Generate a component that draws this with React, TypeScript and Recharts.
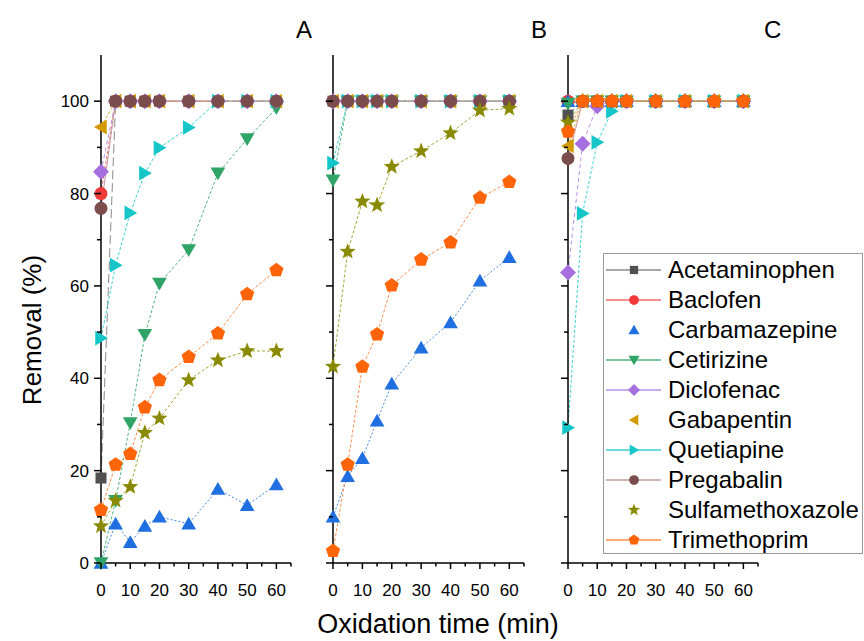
import React from 'react';
import { LineChart, Line, XAxis, YAxis } from 'recharts';

// sampling times (min)
const times = [0, 5, 10, 15, 20, 30, 40, 50, 60];

const compounds = [
  'Acetaminophen', 'Baclofen', 'Carbamazepine', 'Cetirizine', 'Diclofenac',
  'Gabapentin', 'Quetiapine', 'Pregabalin', 'Sulfamethoxazole', 'Trimethoprim',
];

// Panel A removal (%)
const acetaminophenA = [18.4, 100, 100, 100, 100, 100, 100, 100, 100];
const baclofenA = [80, 100, 100, 100, 100, 100, 100, 100, 100];
const carbamazepineA = [0, 8.5, 4.5, 8, 10, 8.5, 16, 12.5, 17];
const cetirizineA = [0, 13.5, 30.3, 49.4, 60.5, 67.8, 84.4, 91.8, 98.5];
const diclofenacA = [84.7, 100, 100, 100, 100, 100, 100, 100, 100];
const gabapentinA = [94.4, 100, 100, 100, 100, 100, 100, 100, 100];
const quetiapineA = [48.7, 64.5, 75.8, 84.4, 89.9, 94.3, 100, 100, 100];
const pregabalinA = [76.8, 100, 100, 100, 100, 100, 100, 100, 100];
const sulfamethoxazoleA = [8, 13.5, 16.5, 28.2, 31.3, 39.6, 43.9, 45.9, 45.9];
const trimethoprimA = [11.5, 21.3, 23.6, 33.7, 39.6, 44.6, 49.7, 58.2, 63.4];

// Panel B removal (%)
const acetaminophenB = [100, 100, 100, 100, 100, 100, 100, 100, 100];
const baclofenB = [100, 100, 100, 100, 100, 100, 100, 100, 100];
const carbamazepineB = [10, 18.8, 22.7, 30.8, 38.8, 46.6, 52.1, 61.1, 66.2];
const cetirizineB = [82.9, 100, 100, 100, 100, 100, 100, 100, 100];
const diclofenacB = [100, 100, 100, 100, 100, 100, 100, 100, 100];
const gabapentinB = [100, 100, 100, 100, 100, 100, 100, 100, 100];
const quetiapineB = [86.6, 100, 100, 100, 100, 100, 100, 100, 100];
const pregabalinB = [100, 100, 100, 100, 100, 100, 100, 100, 100];
const sulfamethoxazoleB = [42.5, 67.4, 78.3, 77.5, 85.8, 89.2, 93.1, 98, 98.4];
const trimethoprimB = [2.6, 21.3, 42.5, 49.5, 60.1, 65.7, 69.4, 79.1, 82.5];

// Panel C removal (%)
const acetaminophenC = [97, 100, 100, 100, 100, 100, 100, 100, 100];
const baclofenC = [100, 100, 100, 100, 100, 100, 100, 100, 100];
const carbamazepineC = [100, 100, 100, 100, 100, 100, 100, 100, 100];
const cetirizineC = [99.5, 100, 100, 100, 100, 100, 100, 100, 100];
const diclofenacC = [62.9, 90.8, 98.9, 100, 100, 100, 100, 100, 100];
const gabapentinC = [90.3, 100, 100, 100, 100, 100, 100, 100, 100];
const quetiapineC = [29.3, 75.7, 91.1, 97.8, 100, 100, 100, 100, 100];
const pregabalinC = [87.6, 100, 100, 100, 100, 100, 100, 100, 100];
const sulfamethoxazoleC = [95.4, 100, 100, 100, 100, 100, 100, 100, 100];
const trimethoprimC = [93.4, 100, 100, 100, 100, 100, 100, 100, 100];

const xTicks = [0, 5, 10, 15, 20, 25, 30, 35, 40, 45, 50, 55, 60, 65];
const yTicks = [0, 10, 20, 30, 40, 50, 60, 70, 80, 90, 100];

type Shape = 'square' | 'circle' | 'up' | 'down' | 'diamond' | 'left' | 'right' | 'star' | 'pentagon';

interface Style {
  color: string;
  line: string;
  dash: string;
  shape: Shape;
  legendLine: boolean;
}

const styles: Record<string, Style> = {
  Acetaminophen: { color: '#505050', line: '#8a8a8a', dash: '9 4', shape: 'square', legendLine: true },
  Baclofen: { color: '#f03a3a', line: '#f06a6a', dash: '3 2', shape: 'circle', legendLine: true },
  Carbamazepine: { color: '#1f6fe0', line: '#4a8ae8', dash: '2 2', shape: 'up', legendLine: false },
  Cetirizine: { color: '#2fa466', line: '#52b47e', dash: '3 2', shape: 'down', legendLine: true },
  Diclofenac: { color: '#a66fe0', line: '#b890e8', dash: '4 3', shape: 'diamond', legendLine: true },
  Gabapentin: { color: '#d39a00', line: '#ddae3a', dash: '3 2', shape: 'left', legendLine: false },
  Quetiapine: { color: '#14c6c8', line: '#3ad0d2', dash: '3 2', shape: 'right', legendLine: true },
  Pregabalin: { color: '#7a4c4c', line: '#c49a9a', dash: '', shape: 'circle', legendLine: true },
  Sulfamethoxazole: { color: '#8a8a00', line: '#a4a43a', dash: '3 2', shape: 'star', legendLine: false },
  Trimethoprim: { color: '#ff6508', line: '#ff8c4a', dash: '3 2', shape: 'pentagon', legendLine: true },
};

const FONT = "'Liberation Sans', Arial, sans-serif";

function polygon(cx: number, cy: number, n: number, r: number, rot: number, inner?: number) {
  const pts: string[] = [];
  const count = inner ? n * 2 : n;
  for (let i = 0; i < count; i++) {
    const rr = inner && i % 2 === 1 ? inner : r;
    const a = rot + (i * Math.PI * 2) / count;
    pts.push(`${cx + rr * Math.cos(a)},${cy + rr * Math.sin(a)}`);
  }
  return pts.join(' ');
}

function Marker({ shape, cx, cy, color, k = 1 }: { shape: Shape; cx: number; cy: number; color: string; k?: number }) {
  const up = -Math.PI / 2;
  switch (shape) {
    case 'square':
      return <rect x={cx - 5.5 * k} y={cy - 5.5 * k} width={11 * k} height={11 * k} fill={color} />;
    case 'circle':
      return <circle cx={cx} cy={cy} r={6.5 * k} fill={color} />;
    case 'up':
      return <polygon points={polygon(cx, cy + 1.5 * k, 3, 8.5 * k, up)} fill={color} />;
    case 'down':
      return <polygon points={polygon(cx, cy - 1.5 * k, 3, 8.5 * k, Math.PI / 2)} fill={color} />;
    case 'diamond':
      return <polygon points={polygon(cx, cy, 4, 8 * k, up)} fill={color} />;
    case 'left':
      return <polygon points={polygon(cx + 1.5 * k, cy, 3, 8.5 * k, Math.PI)} fill={color} />;
    case 'right':
      return <polygon points={polygon(cx - 1.5 * k, cy, 3, 8.5 * k, 0)} fill={color} />;
    case 'star':
      return <polygon points={polygon(cx, cy, 5, 8.5 * k, up, 3.6 * k)} fill={color} />;
    case 'pentagon':
      return <polygon points={polygon(cx, cy, 5, 7.5 * k, up)} fill={color} />;
  }
  return null;
}

// eslint-disable-next-line @typescript-eslint/no-explicit-any
const XTick = (props: any) => {
  const { x, y, payload } = props;
  const major = payload.value % 10 === 0;
  return (
    <g>
      <line x1={x} x2={x} y1={y} y2={y + (major ? 6 : 3.5)} stroke="#000" strokeWidth={1.5} />
      {major && (
        <text x={x} y={y + 33} textAnchor="middle" fontSize={17} fontFamily={FONT} fill="#000">
          {payload.value}
        </text>
      )}
    </g>
  );
};

// eslint-disable-next-line @typescript-eslint/no-explicit-any
const YTick = (props: any) => {
  const { x, y, payload, showLabel } = props;
  const major = payload.value % 20 === 0;
  return (
    <g>
      <line x1={x} x2={x - (major ? 7 : 4)} y1={y} y2={y} stroke="#000" strokeWidth={1.5} />
      {major && showLabel && (
        <text x={x - 12} y={y + 6} textAnchor="end" fontSize={17} fontFamily={FONT} fill="#000">
          {payload.value}
        </text>
      )}
    </g>
  );
};

function buildRows(series: number[][]) {
  return times.map((t, i) => {
    const row: Record<string, number> = { t };
    compounds.forEach((c, j) => {
      row[c] = series[j][i];
    });
    return row;
  });
}

const dataA = buildRows([acetaminophenA, baclofenA, carbamazepineA, cetirizineA, diclofenacA, gabapentinA, quetiapineA, pregabalinA, sulfamethoxazoleA, trimethoprimA]);
const dataB = buildRows([acetaminophenB, baclofenB, carbamazepineB, cetirizineB, diclofenacB, gabapentinB, quetiapineB, pregabalinB, sulfamethoxazoleB, trimethoprimB]);
const dataC = buildRows([acetaminophenC, baclofenC, carbamazepineC, cetirizineC, diclofenacC, gabapentinC, quetiapineC, pregabalinC, sulfamethoxazoleC, trimethoprimC]);

interface PanelProps {
  data: Record<string, number>[];
  left: number;
  width: number;
  plotLeft: number; // left edge of plotting area inside the chart
  marginRight: number;
  showYLabels: boolean;
}

const X_AXIS_H = 40;
const Y_AXIS_W = 20;

function Panel({ data, left, width, plotLeft, marginRight, showYLabels }: PanelProps) {
  return (
    <div style={{ position: 'absolute', left, top: 0 }}>
      <LineChart
        width={width}
        height={641}
        data={data}
        margin={{ top: 55, right: marginRight, bottom: 78 - X_AXIS_H, left: plotLeft - Y_AXIS_W }}
      >
        <XAxis
          type="number"
          dataKey="t"
          domain={[0, 65]}
          ticks={xTicks}
          interval={0}
          height={X_AXIS_H}
          tickSize={0}
          tickMargin={0}
          tickLine={false}
          axisLine={{ stroke: '#000', strokeWidth: 1.5 }}
          tick={(p: any) => <XTick {...p} />}
        />
        <YAxis
          type="number"
          domain={[0, 110]}
          ticks={yTicks}
          interval={0}
          width={Y_AXIS_W}
          tickSize={0}
          tickMargin={0}
          tickLine={false}
          axisLine={{ stroke: '#000', strokeWidth: 1.5 }}
          tick={(p: any) => <YTick {...p} showLabel={showYLabels} />}
        />
        {compounds.map((c) => {
          const s = styles[c];
          return (
            <Line
              key={c}
              type="linear"
              dataKey={c}
              stroke={s.line}
              strokeWidth={1}
              strokeDasharray={s.dash || undefined}
              isAnimationActive={false}
              activeDot={false}
              dot={(p: any) => (
                <Marker key={`${c}-${p.index}`} shape={s.shape} cx={p.cx} cy={p.cy} color={s.color} />
              )}
            />
          );
        })}
      </LineChart>
    </div>
  );
}

function LegendBox() {
  return (
    <div
      style={{
        position: 'absolute',
        left: 603,
        top: 253,
        width: 258,
        height: 299,
        border: '1px solid #9a9a9a',
        background: '#fff',
      }}
    >
      {compounds.map((c, i) => {
        const s = styles[c];
        return (
          <div key={c} style={{ position: 'absolute', left: 0, top: 1 + i * 30, height: 30, width: 258 }}>
            <svg width={62} height={30} style={{ position: 'absolute', left: 0, top: 0 }}>
              {s.legendLine && <line x1={2} x2={57} y1={15} y2={15} stroke={s.line} strokeWidth={1.5} />}
              <Marker shape={s.shape} cx={30} cy={15} color={s.color} k={0.75} />
            </svg>
            <span
              style={{
                position: 'absolute',
                left: 64,
                top: 0,
                lineHeight: '30px',
                fontSize: 24,
                fontFamily: FONT,
                color: '#000',
                whiteSpace: 'nowrap',
              }}
            >
              {c}
            </span>
          </div>
        );
      })}
    </div>
  );
}

export default function App() {
  const label: React.CSSProperties = { position: 'absolute', fontFamily: FONT, color: '#000', whiteSpace: 'nowrap' };
  return (
    <div style={{ position: 'absolute', left: 0, top: 0, width: 864, height: 641, background: '#fff', overflow: 'hidden' }}>
      <Panel data={dataA} left={0} width={300} plotLeft={101} marginRight={9} showYLabels />
      <Panel data={dataB} left={300} width={230} plotLeft={33} marginRight={6} showYLabels={false} />
      <Panel data={dataC} left={530} width={240} plotLeft={38} marginRight={12} showYLabels={false} />
      <LegendBox />
      <div style={{ ...label, left: 296, top: 16, fontSize: 24 }}>A</div>
      <div style={{ ...label, left: 531, top: 16, fontSize: 24 }}>B</div>
      <div style={{ ...label, left: 764, top: 16, fontSize: 24 }}>C</div>
      <div
        style={{
          ...label,
          left: 32,
          top: 330,
          fontSize: 26,
          transform: 'translate(-50%, -50%) rotate(-90deg)',
        }}
      >
        Removal (%)
      </div>
      <div style={{ ...label, left: 438, top: 624, fontSize: 27, transform: 'translate(-50%, -50%)' }}>
        Oxidation time (min)
      </div>
    </div>
  );
}
